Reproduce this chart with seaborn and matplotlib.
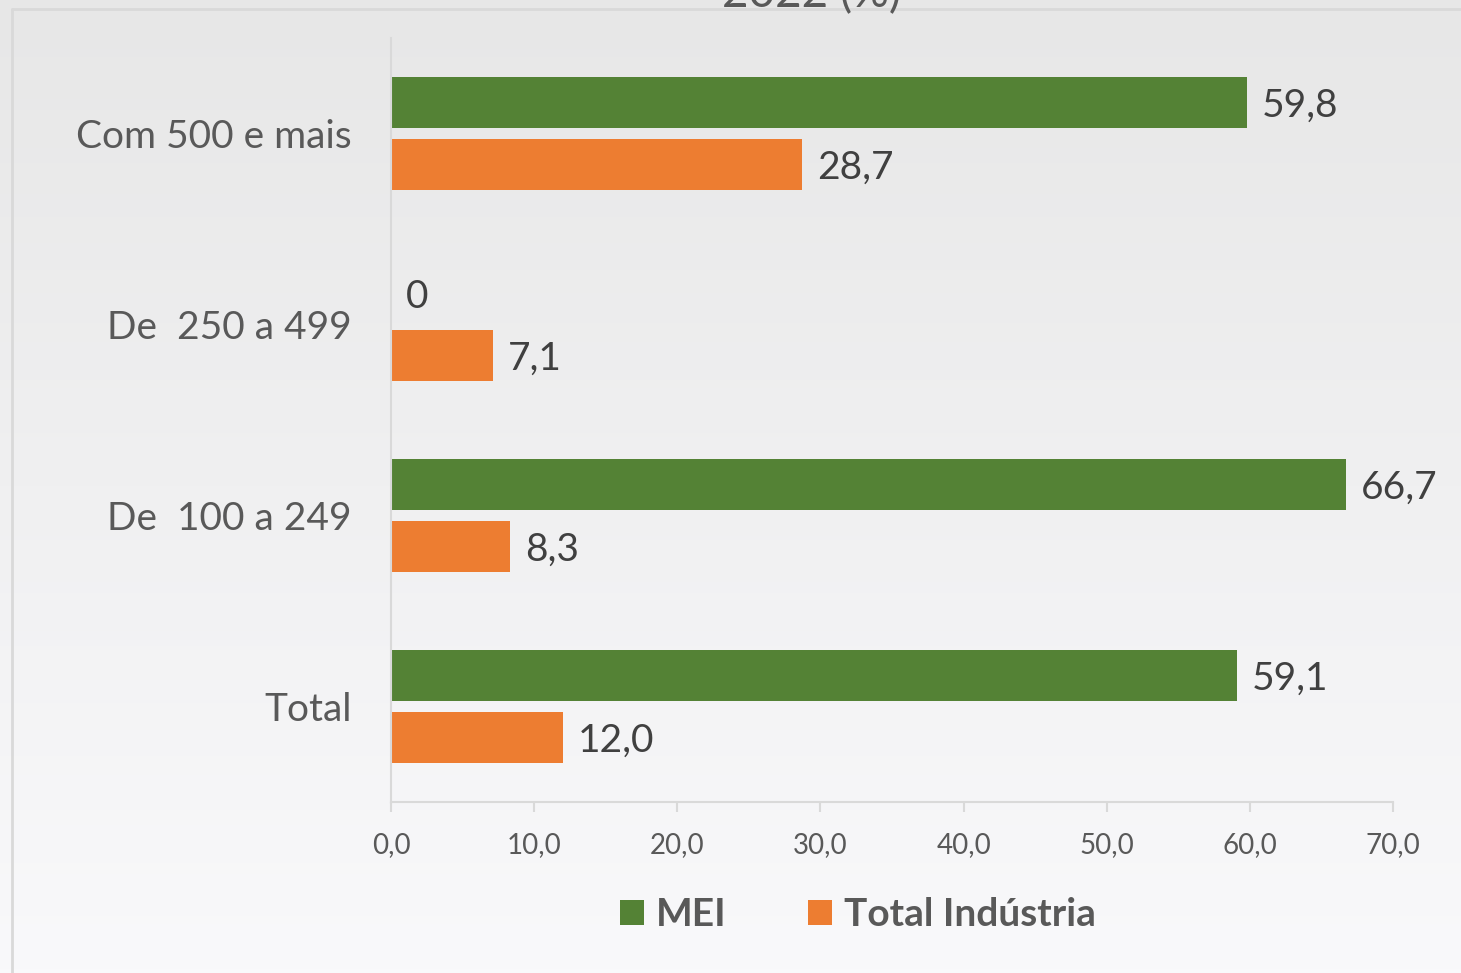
import numpy as np
import pandas as pd
import matplotlib
matplotlib.use("Agg")
import matplotlib.pyplot as plt
import seaborn as sns
from matplotlib.patches import Patch

# chart data
categories = ["Com 500 e mais", "De  250 a 499", "De  100 a 249", "Total"]
mei = [59.8, 0.0, 66.7, 59.1]
total_industria = [28.7, 7.1, 8.3, 12.0]
series_names = ["MEI", "Total Indústria"]
x_ticks = [0, 10, 20, 30, 40, 50, 60, 70]

colors = ["#548235", "#ED7D31"]
text_gray = "#595959"
label_gray = "#404040"
line_gray = "#d9d9d9"

sns.set_style("white")
plt.rcParams["font.family"] = ["Lato", "DejaVu Sans"]

df = pd.DataFrame({
    "categoria": categories * 2,
    "serie": [series_names[0]] * len(categories) + [series_names[1]] * len(categories),
    "valor": mei + total_industria,
})

fig = plt.figure(figsize=(14.61, 9.73), dpi=100)

# gradient background, light gray at top fading to near white
bg = fig.add_axes([0, 0, 1, 1], zorder=0)
top = np.array([231, 231, 231]) / 255
bottom = np.array([249, 249, 251]) / 255
t = np.linspace(0, 1, 256)[:, None]
grad = top[None, :] * (1 - t) + bottom[None, :] * t
bg.imshow(grad[:, None, :], aspect="auto", extent=[0, 1, 0, 1])
bg.set_xlim(0, 1)
bg.set_ylim(0, 1)
bg.axis("off")
# chart frame border
bg.plot([12 / 1461, 12 / 1461], [0, 1 - 9 / 973], color=line_gray, lw=2)
bg.plot([12 / 1461, 1], [1 - 9 / 973, 1 - 9 / 973], color=line_gray, lw=2)

ax = fig.add_axes([391 / 1461, 1 - 802 / 973, 1002 / 1461, 764 / 973], zorder=1)
ax.patch.set_alpha(0)

sns.barplot(data=df, y="categoria", x="valor", hue="serie", palette=colors,
            orient="h", width=0.65, gap=0.18, saturation=1, linewidth=0,
            ax=ax, legend=False)

# value labels, comma decimal, nudged a little below bar centre
for cont, vals in zip(ax.containers, [mei, total_industria]):
    labels = ["0" if v == 0 else f"{v:.1f}".replace(".", ",") for v in vals]
    texts = ax.bar_label(cont, labels=labels, padding=11, fontsize=28, color=label_gray)
    for txt in texts:
        txt.xyann = (txt.xyann[0], txt.xyann[1] - 2.5)

ax.set_xlim(0, 70)
ax.set_xticks(x_ticks)
ax.set_xticklabels([f"{v:.1f}".replace(".", ",") for v in x_ticks])
ax.set_xlabel("")
ax.set_ylabel("")
ax.tick_params(axis="x", length=7, width=1.5, color=line_gray, labelsize=20,
               labelcolor=text_gray, pad=14.5, bottom=True)
ax.tick_params(axis="y", length=0, labelsize=28, labelcolor=text_gray, pad=28.5)

for side in ["top", "right"]:
    ax.spines[side].set_visible(False)
for side in ["left", "bottom"]:
    ax.spines[side].set_color(line_gray)
    ax.spines[side].set_linewidth(1.5)

# title is cut off at the top of the picture
fig.text(812 / 1461, 1 - 7 / 973, "2022 (%)", ha="center", va="baseline",
         fontsize=33, color=text_gray)

handles = [Patch(facecolor=c, edgecolor="none") for c in colors]
fig.legend(handles, series_names, loc="center", bbox_to_anchor=(858 / 1461, 1 - 915 / 973),
           ncol=2, frameon=False, prop={"size": 28, "weight": "bold"},
           labelcolor=text_gray, handlelength=0.62, handleheight=0.62,
           handletextpad=0.3, columnspacing=2.1)

fig.savefig("out.png", dpi=100)
